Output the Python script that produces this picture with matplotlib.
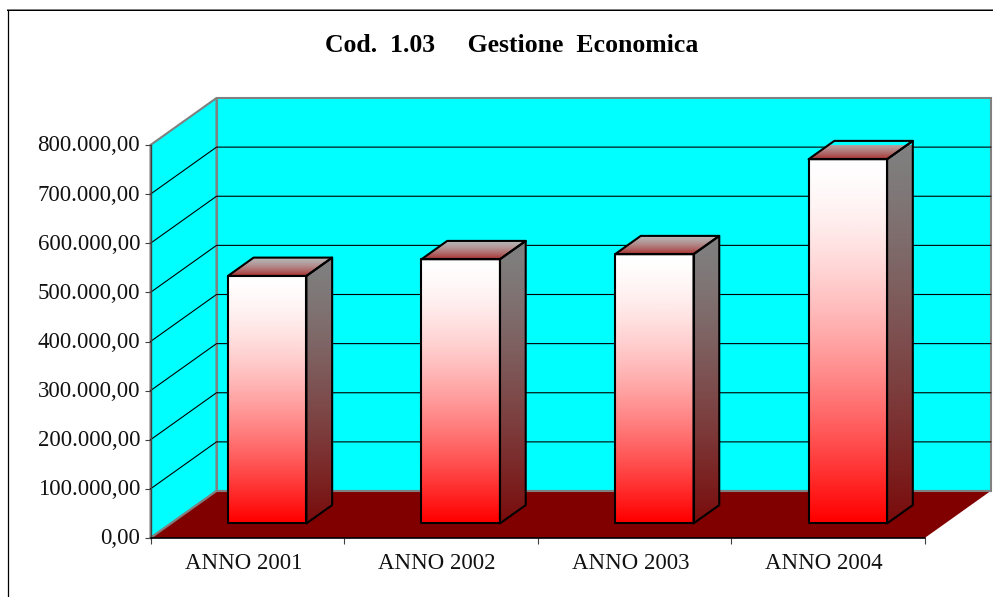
import numpy as np
import matplotlib
matplotlib.use('Agg')
import matplotlib.pyplot as plt
from matplotlib.lines import Line2D
from matplotlib.patches import Polygon
from matplotlib.ticker import FuncFormatter
from matplotlib.transforms import ScaledTranslation

# Data
categories = ['ANNO 2001', 'ANNO 2002', 'ANNO 2003', 'ANNO 2004']
values = [503800, 537800, 548000, 741400]
y_ticks = [0, 100000, 200000, 300000, 400000, 500000, 600000, 700000, 800000]
title = 'Cod.  1.03     Gestione  Economica'

W, H = 993, 597
plt.rcParams['font.family'] = ['Liberation Serif', 'DejaVu Serif']

fig = plt.figure(figsize=(W / 100, H / 100), dpi=100, facecolor='white')
# front plane of the fake 3d box
ax = fig.add_axes([150.5 / W, (H - 538) / H, 774.2 / W, 393 / H])
ax.set_xlim(0, len(categories))
ax.set_ylim(0, 800000)
ax.patch.set_visible(False)

# oblique offset of the back wall, in data units
dx = 66.0 / (774.2 / len(categories))
dy = 47.0 / 393 * 800000
xmax = len(categories)
ymax = y_ticks[-1]
GRAY = '#808080'


def add_poly(pts, **kw):
    p = Polygon(pts, closed=True, clip_on=False, **kw)
    ax.add_patch(p)
    return p


# walls and floor
add_poly([(dx, dy), (xmax + dx, dy), (xmax + dx, ymax + dy), (dx, ymax + dy)],
         facecolor='#00ffff', edgecolor=GRAY, linewidth=1.5, zorder=1)
add_poly([(0, 0), (dx, dy), (dx, ymax + dy), (0, ymax)],
         facecolor='#00ffff', edgecolor=GRAY, linewidth=1.5, zorder=1)

# gridlines
for t in y_ticks[1:-1]:
    ax.plot([0, dx, xmax + dx], [t, t + dy, t + dy], color='black', lw=0.8,
            zorder=1.5, clip_on=False)

add_poly([(0, 0), (xmax, 0), (xmax + dx, dy), (dx, dy)],
         facecolor='#800000', edgecolor='none', zorder=2)
ax.plot([0, dx, xmax + dx], [0, dy, dy], color=GRAY, lw=1.5, zorder=2.1,
        clip_on=False)


def gradient(pts, top, bottom, zorder, power=1.0):
    # vertical colour ramp clipped to a polygon
    pts = np.array(pts)
    ramp = (np.linspace(0, 1, 64) ** power)[:, None, None]
    img = np.array(top)[None, None, :] * (1 - ramp) + np.array(bottom)[None, None, :] * ramp
    im = ax.imshow(img / 255, aspect='auto', interpolation='bilinear', zorder=zorder,
                   extent=(pts[:, 0].min(), pts[:, 0].max(), pts[:, 1].min(), pts[:, 1].max()))
    clip = Polygon(pts, closed=True, transform=ax.transData)
    im.set_clip_path(clip)
    add_poly(pts, facecolor='none', edgecolor='black', linewidth=1.5,
             joinstyle='round', zorder=zorder + 0.1)


# bars
bar_w = 78.5 / (774.2 / len(categories))
bar_left = 0.40
near, far = 0.31, 0.70
for i, v in enumerate(values):
    x0 = i + bar_left
    x1 = x0 + bar_w
    y0 = near * dy
    y1 = y0 + v
    ox = (far - near) * dx
    oy = (far - near) * dy
    z = 3 + i
    gradient([(x0, y0), (x1, y0), (x1, y1), (x0, y1)],
             (255, 255, 255), (255, 0, 0), z, power=1.5)
    gradient([(x1, y0), (x1 + ox, y0 + oy), (x1 + ox, y1 + oy), (x1, y1)],
             (128, 128, 128), (122, 12, 12), z, power=1.3)
    gradient([(x0, y1), (x1, y1), (x1 + ox, y1 + oy), (x0 + ox, y1 + oy)],
             (182, 182, 182), (170, 50, 50), z, power=1.5)

ax.set_xlim(0, xmax)
ax.set_ylim(0, ymax)

# axes
for s in ['top', 'right']:
    ax.spines[s].set_visible(False)
ax.spines['left'].set_color('#404040')
ax.spines['left'].set_linewidth(1.0)
ax.spines['bottom'].set_color('black')
ax.spines['bottom'].set_linewidth(1.2)
for s in ax.spines.values():
    s.set_zorder(20)

ax.set_yticks(y_ticks)
ax.yaxis.set_major_formatter(FuncFormatter(
    lambda v, _: f'{v:,.2f}'.replace(',', 'X').replace('.', ',').replace('X', '.')))
ax.set_xticks(np.arange(len(categories) + 1))
ax.set_xticklabels([])
ax.set_xticks(np.arange(len(categories)) + 0.5, categories, minor=True)
ax.tick_params(axis='x', which='major', length=4.5, width=0.8, color='#404040')
ax.tick_params(axis='x', which='minor', length=0, labelsize=16.5, pad=11, labelcolor='#111111')
ax.tick_params(axis='y', length=4, width=0.8, color='#404040', labelsize=16.5, pad=3.5,
               labelcolor='#111111')

# labels sit a little off the tick centres in the original
for lab in ax.get_xticklabels(minor=True):
    lab.set_transform(lab.get_transform() + ScaledTranslation(-4 / 100, 0, fig.dpi_scale_trans))
for lab in ax.get_yticklabels():
    lab.set_transform(lab.get_transform() + ScaledTranslation(0, 1.5 / 100, fig.dpi_scale_trans))

# title
fig.text(512 / W, 1 - 52 / H, title, ha='center', va='baseline', fontsize=18.5,
         fontweight='bold', color='black')

# chart frame, top and left only are in view
fig.add_artist(Line2D([7.5 / W, 7.5 / W], [0, 1 - 10 / H], color='black', lw=0.9))
fig.add_artist(Line2D([7 / W, 1], [1 - 9.9 / H, 1 - 9.9 / H], color='black', lw=0.72))
fig.add_artist(Line2D([7 / W, 1], [1 - 8.9 / H, 1 - 8.9 / H], color=GRAY, lw=0.72))

fig.savefig('out.png', dpi=100)
